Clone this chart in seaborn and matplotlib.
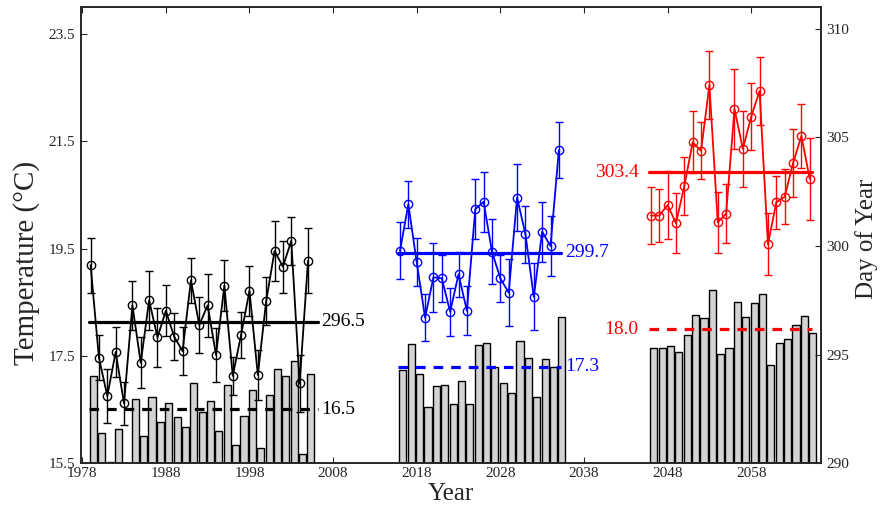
import numpy as np
import pandas as pd
import matplotlib
matplotlib.use('Agg')
import matplotlib.pyplot as plt
import seaborn as sns

# --- data ---
years_a = list(range(1979, 2006))
years_b = list(range(2016, 2036))
years_c = list(range(2046, 2066))

temp_a = [17.13, 16.06, 15.53, 16.13, np.nan, 16.69, 16.01, 16.74, 16.27, 16.63,
          16.36, 16.17, 16.99, 16.45, 16.66, 16.10, 16.96, 15.84, 16.38, 16.86,
          15.79, 16.77, 17.25, 17.13, 17.41, 15.67, 17.17]
temp_b = [17.24, 17.73, 17.17, 16.55, 16.94, 16.96, 16.60, 17.04, 16.60, 17.71,
          17.74, 17.29, 16.99, 16.80, 17.78, 17.46, 16.73, 17.44, 17.30, 18.23]
temp_c = [17.64, 17.64, 17.69, 17.57, 17.89, 18.27, 18.21, 18.73, 17.53, 17.64,
          18.51, 18.22, 18.48, 18.65, 17.33, 17.74, 17.81, 18.07, 18.25, 17.92]

doy_a = [299.12, 294.85, 293.09, 295.12, 292.75, 297.27, 294.62, 297.50, 295.79, 297.02,
         295.82, 295.16, 298.42, 296.36, 297.27, 294.98, 298.17, 294.02, 295.91, 297.94,
         294.06, 297.47, 299.77, 299.05, 300.24, 293.67, 299.32]
doy_b = [299.78, 301.92, 299.25, 296.70, 298.56, 298.51, 296.97, 298.70, 297.02, 301.69,
         302.04, 299.74, 298.51, 297.85, 302.23, 300.55, 297.66, 300.66, 300.00, 304.42]
doy_c = [301.40, 301.40, 301.89, 301.05, 302.76, 304.78, 304.38, 307.42, 301.09, 301.49,
         306.31, 304.47, 305.96, 307.14, 300.08, 302.01, 302.27, 303.81, 305.07, 303.09]

err_a = [1.27, 1.04, 1.23, 1.14, 1.00, 1.14, 1.17, 1.35, 1.34, 1.17,
         1.08, 1.12, 1.04, 1.28, 1.44, 1.26, 1.18, 0.88, 1.06, 1.15,
         1.15, 1.12, 1.39, 1.20, 1.10, 1.30, 1.49]
err_b = [1.31, 1.09, 1.11, 1.09, 1.60, 1.08, 1.10, 1.04, 1.14, 1.38,
         1.38, 1.49, 1.08, 1.54, 1.55, 1.31, 1.54, 1.38, 1.38, 1.27]
err_c = [1.31, 1.21, 1.58, 1.38, 1.35, 1.44, 1.31, 1.57, 1.41, 1.37,
         1.84, 1.75, 1.54, 1.58, 1.43, 1.21, 1.26, 1.57, 1.46, 1.87]

doy_means = [296.5, 299.7, 303.4]
temp_means = [16.5, 17.3, 18.0]
mean_labels_doy = ['296.5', '299.7', '303.4']
mean_labels_temp = ['16.5', '17.3', '18.0']

colors = ['black', '#0000ff', '#ff0000']

sns.set_style('ticks')
plt.rcParams['font.family'] = ['Liberation Serif', 'DejaVu Serif']

fig = plt.figure(figsize=(8.8, 5.14), dpi=100)
ax = fig.add_axes([0.092, 0.099, 0.841, 0.887])

bars = pd.DataFrame({
    'year': np.array(years_a + years_b + years_c) + 0.35,
    'temp': temp_a + temp_b + temp_c,
}).dropna()
sns.barplot(data=bars, x='year', y='temp', native_scale=True, color='#d3d3d3',
            saturation=1, edgecolor='black', linewidth=1, width=0.85,
            errorbar=None, ax=ax)

ax2 = ax.twinx()

groups = [(years_a, doy_a, err_a), (years_b, doy_b, err_b), (years_c, doy_c, err_c)]
spans = [(-0.2, 1.2), (-0.2, 0.3), (-0.2, 0.3)]
for i, (yrs, doy, err) in enumerate(groups):
    c = colors[i]
    ax2.errorbar(yrs, doy, yerr=err, fmt='none', ecolor=c, elinewidth=1, capsize=3)
    sns.lineplot(x=yrs, y=doy, ax=ax2, color=c, lw=1.3, marker='o', markersize=6,
                 markerfacecolor='none', markeredgecolor=c, markeredgewidth=1)
    x0, x1 = yrs[0] + spans[i][0], yrs[-1] + spans[i][1]
    ax2.plot([x0, x1], [doy_means[i]] * 2, color=c, lw=2.3)
    ax.plot([x0, x1], [temp_means[i]] * 2, color=c, lw=2.3, ls=(0, (3, 2.5)))
    if i < 2:
        ax2.text(x1 + 0.4, doy_means[i], mean_labels_doy[i], color=c, fontsize=14,
                 ha='left', va='center')
        ax.text(x1 + 0.4, temp_means[i], mean_labels_temp[i], color=c, fontsize=14,
                ha='left', va='center')
    else:
        ax2.text(x0 - 1.3, doy_means[i], mean_labels_doy[i], color=c, fontsize=14,
                 ha='right', va='center')
        ax.text(x0 - 1.3, temp_means[i], mean_labels_temp[i], color=c, fontsize=14,
                ha='right', va='center')

ax.set_xlim(1977.85, 2066.35)
ax.set_xticks(range(1978, 2059, 10))
ax.set_ylim(15.5, 24)
ax.set_yticks([15.5, 17.5, 19.5, 21.5, 23.5])
ax.set_yticklabels(['15.5', '17.5', '19.5', '21.5', '23.5'])
ax2.set_ylim(290, 311)
ax2.set_yticks([290, 295, 300, 305, 310])

ax.tick_params(axis='x', direction='in', top=True, length=4, labelsize=11, pad=3)
ax.tick_params(axis='y', direction='in', length=4, labelsize=11, pad=4)
ax2.tick_params(axis='y', direction='in', length=4, labelsize=11, pad=4)
for a in (ax, ax2):
    for s in a.spines.values():
        s.set_visible(True)
        s.set_linewidth(1.2)

ax.set_xlabel('Year', fontsize=18, labelpad=2)
ax.set_ylabel('Temperature (°C)', fontsize=21)
ax.yaxis.set_label_coords(-0.056, 0.44)
ax2.set_ylabel('Day of Year', fontsize=18)
ax2.yaxis.set_label_coords(1.046, 0.493)

fig.savefig('out.png', dpi=100)
